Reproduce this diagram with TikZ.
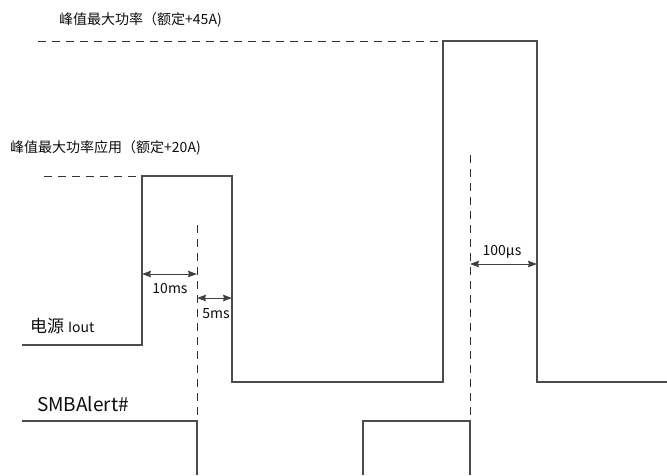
\documentclass[tikz,border=0pt]{standalone}
\usepackage{fontspec}
\setmainfont{Noto Sans CJK SC}
\usetikzlibrary{arrows.meta}
\definecolor{ln}{gray}{0.3}
\definecolor{tx}{gray}{0.05}
\tikzset{
  sig/.style={draw=ln, line width=1.3pt},
  guide/.style={draw=black!80, line width=0.9pt, dash pattern=on 8pt off 6pt},
  dim/.style={draw=black!75, line width=1pt, {Stealth[length=9pt,width=6.5pt,inset=1pt]}-{Stealth[length=9pt,width=6.5pt,inset=1pt]}},
  lbl/.style={text=tx, inner sep=0pt, anchor=west},
  small/.style={text=tx, inner sep=0pt, font=\fontsize{14}{16}\selectfont}
}
\begin{document}
\begin{tikzpicture}[x=1pt,y=-1pt]
\useasboundingbox (0,0) rectangle (667,475);
% key points
\coordinate (a0) at (22,345);
\coordinate (a1) at (142,345);
\coordinate (a2) at (142,176);
\coordinate (a3) at (232,176);
\coordinate (a4) at (232,382);
\coordinate (a5) at (443,382);
\coordinate (a6) at (443,41);
\coordinate (a7) at (537,41);
\coordinate (a8) at (537,382);
\coordinate (a9) at (667,382);
\coordinate (b0) at (22,421);
\coordinate (b1) at (197,421);
\coordinate (b2) at (197,475);
\coordinate (b3) at (363,475);
\coordinate (b4) at (363,421);
\coordinate (b5) at (470,421);
\coordinate (b6) at (470,475);
\coordinate (g1) at (197,225);
\coordinate (g2) at (470,155);
\coordinate (h1) at (38,41);
\coordinate (h2) at (44,176);
% waveforms
\draw[sig] (a0) -- (a1) -- (a2) -- (a3) -- (a4) -- (a5) -- (a6) -- (a7) -- (a8) -- (a9);
\draw[sig] (b0) -- (b1) -- (b2);
\draw[sig] (b3) -- (b4) -- (b5) -- (b6);
% guides
\draw[guide] (h1) -- (a6);
\draw[guide] (h2) -- (a2);
\draw[guide] (g1) -- (b1);
\draw[guide] (g2) -- (b5);
% dimensions
\coordinate (d1a) at (142,274); \coordinate (d1b) at (197,274);
\coordinate (d2a) at (197,298); \coordinate (d2b) at (232,298);
\coordinate (d3a) at (470,264); \coordinate (d3b) at (537,264);
\draw[dim] (d1a) -- (d1b);
\draw[dim] (d2a) -- (d2b);
\draw[dim] (d3a) -- (d3b);
% labels
\node[lbl, font=\fontsize{14}{16}\selectfont] (t1) at (59,20) {峰值最大功率（额定+45A)};
\node[lbl, font=\fontsize{14}{16}\selectfont] (t2) at (10,148) {峰值最大功率应用（额定+20A)};
\node[lbl, font=\fontsize{17}{19}\selectfont] (t3) at (30,326) {电源 {\fontsize{14}{16}\selectfont Iout}};
\node[lbl, font=\fontsize{19}{21}\selectfont] (t4) at (37,404) {SMBAlert\#};
\node[small] (l1) at (170,289) {10ms};
\node[small] (l2) at (216,314) {5ms};
\node[small] (l3) at (502,252) {100µs};
\end{tikzpicture}
\end{document}
